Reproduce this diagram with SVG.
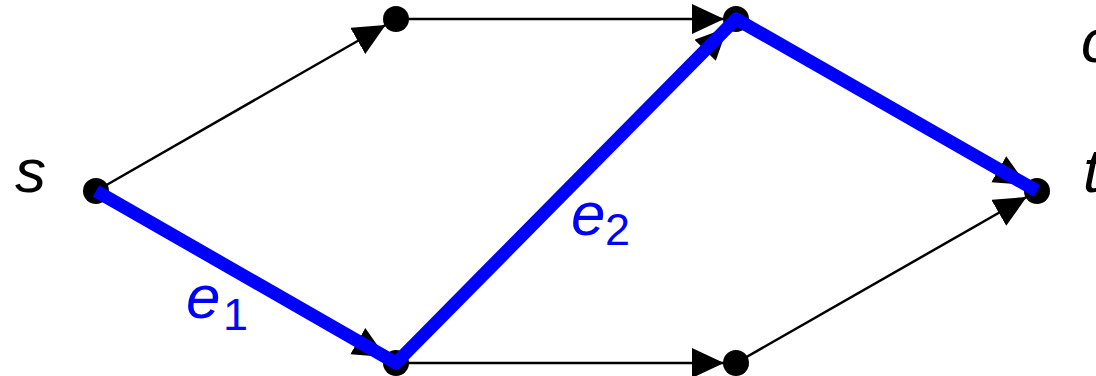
<svg xmlns="http://www.w3.org/2000/svg" width="1096" height="376" viewBox="0 0 1096 376">
<style>
.edge{stroke:#000;stroke-width:2.5;fill:none;marker-end:url(#arr)}
.node{fill:#000}
.lbl{font-family:"Liberation Sans",Arial,sans-serif;font-style:italic;font-size:62px;fill:#000}
.elbl{font-family:"Liberation Sans",Arial,sans-serif;fill:#0000ff}
.path{stroke:#0000ff;stroke-width:13;fill:none;stroke-linejoin:round;stroke-linecap:butt}
</style>
<defs>
<marker id="arr" markerUnits="userSpaceOnUse" markerWidth="50" markerHeight="40" refX="44" refY="15" orient="auto" viewBox="0 0 50 40">
<path d="M0,0 L32,15 L0,30 z" fill="#000"/>
</marker>
</defs>
<g id="connectors">
<line class="edge" x1="96" y1="191" x2="396" y2="19"/>
<line class="edge" x1="396" y1="19" x2="736" y2="19"/>
<line class="edge" x1="96" y1="191" x2="396" y2="363"/>
<line class="edge" x1="396" y1="363" x2="736" y2="363"/>
<line class="edge" x1="396" y1="363" x2="736" y2="19"/>
<line class="edge" x1="736" y1="19" x2="1037" y2="191"/>
<line class="edge" x1="736" y1="363" x2="1037" y2="191"/>
</g>
<g id="node-s"><circle class="node" cx="96" cy="191" r="13"/><text class="lbl" x="15" y="192">s</text></g>
<g id="node-a"><circle class="node" cx="396" cy="19" r="13"/></g>
<g id="node-b"><circle class="node" cx="736" cy="19" r="13"/></g>
<g id="node-c"><circle class="node" cx="396" cy="363" r="13"/></g>
<g id="node-d"><circle class="node" cx="736" cy="363" r="13"/></g>
<g id="node-t"><circle class="node" cx="1037" cy="191" r="13"/><text class="lbl" x="1083" y="192">t</text></g>
<g id="path-highlight">
<path class="path" d="M96,191 L396,363 L736,19 L1037,191"/>
<text class="elbl" x="186" y="318" font-size="62" font-style="italic">e</text>
<text class="elbl" x="223" y="330" font-size="45">1</text>
<text class="elbl" x="571" y="235" font-size="62" font-style="italic">e</text>
<text class="elbl" x="605" y="245" font-size="45">2</text>
</g>
<text class="lbl" x="1081" y="62">c</text>
</svg>
